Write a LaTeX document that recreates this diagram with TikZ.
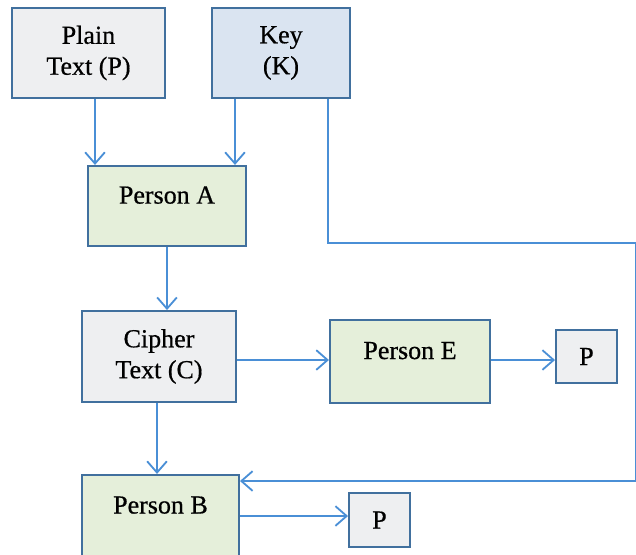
\documentclass[tikz,border=0pt]{standalone}
\usepackage{fontspec}
\setmainfont[FakeBold=0.6]{Liberation Serif}
\usetikzlibrary{
		arrows.meta,
		calc
	}
\definecolor{boxline}{HTML}{41709E}
\definecolor{arrline}{HTML}{4A8FD6}
\definecolor{grayfill}{HTML}{EEEFF1}
\definecolor{bluefill}{HTML}{DAE4F1}
\definecolor{greenfill}{HTML}{E5EFDA}
\tikzset{
		>={Straight Barb[length=8pt,width=14pt,line width=1.3pt]},
		block/.style={draw=boxline, line width=1.5pt, align=center,
			font=\fontsize{18.5}{22}\selectfont, inner sep=0pt},
		person/.style={block, fill=greenfill, text depth=0.55cm},
		link/.style={draw=arrline, line width=1.4pt}
	}

\begin{document}
\begin{tikzpicture}[x=0.025cm, y=-0.025cm]
          \useasboundingbox (0,0) rectangle (636,554);
          \clip (0,0) rectangle (636,554);

          % boxes
          \node[block, fill=grayfill, minimum width=3.82cm, minimum height=2.25cm]
               (plain) at (88.5,53) {Plain\\Text (P)};
          \node[block, fill=bluefill, minimum width=3.45cm, minimum height=2.25cm]
               (key) at (281,53) {Key\\(K)};
          \node[person, minimum width=3.95cm, minimum height=2cm]
               (pa) at (167,206) {Person A};
          \node[block, fill=grayfill, minimum width=3.85cm, minimum height=2.27cm]
               (cipher) at (159,356.5) {Cipher\\Text (C)};
          \node[person, minimum width=4cm, minimum height=2.07cm]
               (pe) at (410,361.5) {Person E};
          \node[block, fill=grayfill, minimum width=1.52cm, minimum height=1.32cm]
               (pone) at (586.5,356.5) {P};
          \node[person, minimum width=3.92cm, minimum height=2.05cm]
               (pb) at (160.5,516) {Person B};
          \node[block, fill=grayfill, minimum width=1.52cm, minimum height=1.35cm]
               (ptwo) at (379.5,520) {P};

          \coordinate (turn) at (635.5,243);

          % connectors
          \draw[link, ->] (plain.south -| 95,0) -- (pa.north -| 95,0);
          \draw[link, ->] (key.south -| 235,0) -- (pa.north -| 235,0);
          \draw[link, ->] (key.south -| 328,0) |- (turn) |- (pb.east |- 0,481);
          \draw[link, ->] (pa.south -| 167,0) -- (cipher.north -| 167,0);
          \draw[link, ->] (cipher.east |- 0,360) -- (pe.west |- 0,360);
          \draw[link, ->] (pe.east |- 0,360) -- (pone.west |- 0,360);
          \draw[link, ->] (cipher.south -| 157,0) -- (pb.north -| 157,0);
          \draw[link, ->] (pb.east |- 0,516) -- (ptwo.west |- 0,516);

          \end{tikzpicture}
\end{document}
